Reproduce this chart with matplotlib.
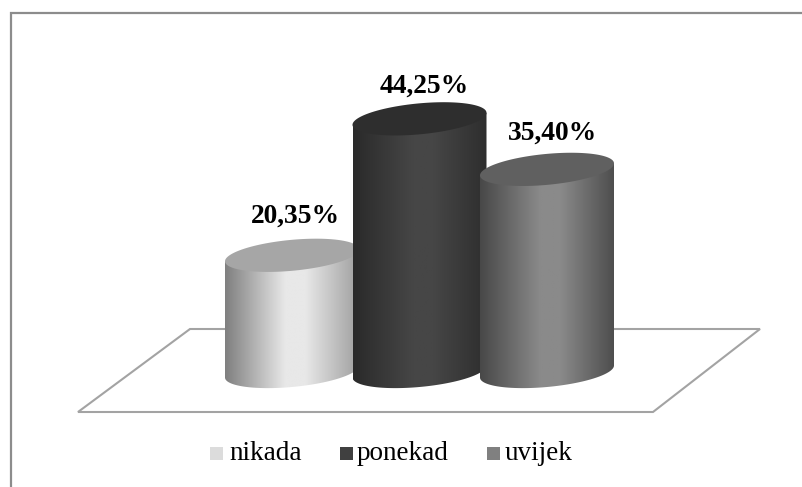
import numpy as np
import matplotlib
matplotlib.use("Agg")
import matplotlib.pyplot as plt
from matplotlib.patches import Polygon, Rectangle
from matplotlib.colors import LinearSegmentedColormap

categories = ["nikada", "ponekad", "uvijek"]
values = [20.35, 44.25, 35.40]
labels = ["20,35%", "44,25%", "35,40%"]

W, H = 802, 487
PX_PER_PCT = 5.71
BASE_PY = 371.5
X0, STEP = 292.0, 127.5
HALF_W, ELL_B, ELL_K = 67.0, 15.5, 6.0

top_cols = ["#a6a6a6", "#2e2e2e", "#606060"]
edge_cols = ["#7f7f7f", "#2a2a2a", "#484848"]
mid_cols = ["#e8e8e8", "#464646", "#8a8a8a"]
right_cols = ["#a0a0a0", "#2e2e2e", "#4e4e4e"]
legend_cols = ["#dcdcdc", "#404040", "#808080"]
LINE = "#a3a3a3"
FRAME = "#8c8c8c"

plt.rcParams["font.family"] = ["Liberation Serif", "DejaVu Serif"]
fig = plt.figure(figsize=(W / 100, H / 100), dpi=100, facecolor="white")
ax = fig.add_axes([0, 0, 1, 1])
# x in category units, y in percent
xlim = ((0 - X0) / STEP, (W - X0) / STEP)
ylim = ((BASE_PY - H) / PX_PER_PCT, BASE_PY / PX_PER_PCT)
ax.set_xlim(xlim)
ax.set_ylim(ylim)
ax.axis("off")

dx = lambda p: p / STEP
dy = lambda p: p / PX_PER_PCT
px = lambda x: (x - X0) / STEP
py = lambda y: (BASE_PY - y) / PX_PER_PCT


def page_line(xs, ys, **kw):
    ax.plot([px(v) for v in xs], [py(v) for v in ys], solid_capstyle="butt", solid_joinstyle="miter", **kw)


# frame: open on the right and at the bottom, as cropped in the reference
page_line([11, 11, 802], [487, 13, 13], color=FRAME, lw=1.6, zorder=1)

# floor
ax.add_patch(Polygon([(px(78), py(412)), (px(653), py(412)), (px(760), py(329)), (px(190), py(329))],
                     closed=True, fc="white", ec=LINE, lw=1.5, zorder=2))

label_dx = [3, 5, 6]
label_dy = [39, 32.5, 36]
t = np.linspace(0, 2 * np.pi, 241)
for i, (val, lab) in enumerate(zip(values, labels)):
    z = 3 + i
    c = float(i)
    xe = c + dx(HALF_W) * np.cos(t)
    tb = np.linspace(np.pi, 2 * np.pi, 120)  # bottom half of the base
    xb = c + dx(HALF_W) * np.cos(tb)
    yb = dy(ELL_B) * np.sin(tb) + dy(ELL_K) * np.cos(tb)
    side = np.vstack([
        np.column_stack([xb, yb]),
        [[c + dx(HALF_W), val + dy(ELL_K)]],
        [[c - dx(HALF_W), val - dy(ELL_K)]],
    ])
    cmap = LinearSegmentedColormap.from_list(
        "g", [(0, edge_cols[i]), (0.45, mid_cols[i]), (0.6, mid_cols[i]), (1, right_cols[i])])
    grad = np.linspace(0, 1, 256)[None, :]
    im = ax.imshow(grad, cmap=cmap, aspect="auto", zorder=z, interpolation="bilinear",
                   extent=[c - dx(HALF_W), c + dx(HALF_W), -5, val + 5])
    patch = Polygon(side, closed=True, transform=ax.transData, fc="none", ec="none")
    ax.add_patch(patch)
    im.set_clip_path(patch)
    ax.fill(xe, val + dy(ELL_B) * np.sin(t) + dy(ELL_K) * np.cos(t), color=top_cols[i], lw=0, zorder=z)
    ax.text(c + dx(label_dx[i]), val + dy(label_dy[i]), lab,
            ha="center", va="center", fontsize=19.8, fontweight="bold", color="black", zorder=10)

ax.set_xlim(xlim)
ax.set_ylim(ylim)

# legend
leg_sq = [210, 339.5, 486.5]
leg_tx = [229, 356.5, 505]
for s, tx, col, name in zip(leg_sq, leg_tx, legend_cols, categories):
    ax.add_patch(Rectangle((px(s), py(460)), dx(13), dy(13), fc=col, ec="none", zorder=10))
    ax.text(px(tx), py(453), name, ha="left", va="center", fontsize=19.5, color="black", zorder=10)

fig.savefig("out.png", dpi=100)
